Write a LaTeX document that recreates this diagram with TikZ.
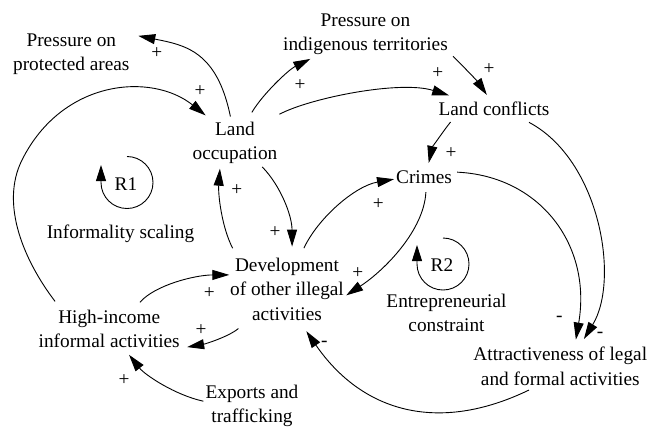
\documentclass[tikz,border=0pt]{standalone}
\usepackage{fontspec}
\setmainfont{Liberation Serif}
\usetikzlibrary{arrows.meta}
\begin{document}
\begin{tikzpicture}[x=1pt,y=-1pt,
  font=\fontsize{19.3}{24.3}\selectfont,
  var/.style={align=center, inner sep=5pt},
  lbl/.style={align=center, inner sep=0pt},
  sgn/.style={inner sep=0pt},
  link/.style={line width=0.9pt, -{Triangle[length=17pt,width=10pt]}},
  looparrow/.style={line width=0.9pt, -{Triangle[length=16pt,width=10pt]}}]
\useasboundingbox (0,0) rectangle (650,426);

% variables
\node[var] (ppa) at (71.3,54.5)  {Pressure on\\protected areas};
\node[var] (pit) at (365.5,34.5) {Pressure on\\indigenous territories};
\node[var] (lo)  at (235,142.6)  {Land\\occupation};
\node[var] (lc)  at (494,108.4)  {Land conflicts};
\node[var] (cr)  at (424,176.8)  {Crimes};
\node[var] (dev) at (287,289.2)  {Development\\of other illegal\\activities};
\node[var] (hi)  at (109.2,328.6) {High-income\\informal activities};
\node[var] (ex)  at (252,406)    {Exports and\\trafficking};
\node[var] (att) at (560.3,366.2) {Attractiveness of legal\\and formal activities};

% loop names
\node[lbl] (r1)  at (126,183.7)   {R1};
\node[lbl] (inf) at (120.5,233.5) {Informality scaling};
\node[lbl] (r2)  at (442,265)     {R2};
\node[lbl] (ent) at (446.5,312.9) {Entrepreneurial\\constraint};

% causal links
\draw[link, shorten >=3.7pt] (lo.100.9) .. controls (217,51) and (185,45) .. (ppa.17.8);
\draw[link, shorten <=4.75pt, shorten >=-3pt] (lo.61.6) .. controls (262,95) and (288,70) .. (pit.-156);
\draw[link, shorten <=4.75pt, shorten >=2.8pt] (lo.33.5) .. controls (310,98) and (400,80) .. (lc.164.2);
\draw[link, shorten >=1.8pt] (pit.-14.4) .. controls (465,68) and (478,82) .. (lc.117.3);
\draw[link, shorten <=2pt, shorten >=2.25pt] (lc.196.2) .. controls (444,130) and (432,148) .. (cr.70.9);
\draw[link, shorten <=4pt, shorten >=3.45pt] (lc.-21.8) .. controls (600,160) and (620,280) .. (att.48.9);
\draw[link, shorten >=2.45pt] (cr.8.2) .. controls (540,176) and (592,245) .. (att.58.2);
\draw[link, shorten <=3.65pt, shorten >=-3.3pt] (cr.-80.2) .. controls (424,230) and (385,270) .. (dev.-4.5);
\draw[link, shorten <=5.3pt, shorten >=-3.15pt] (dev.68.7) .. controls (318,218) and (355,186) .. (cr.185.5);
\draw[link, shorten <=-2.45pt, shorten >=6.3pt] (lo.-42.7) .. controls (280,185) and (292,215) .. (dev.82.1);
\draw[link, shorten <=5.3pt] (dev.145.4) .. controls (222,228) and (218,195) .. (lo.-120.1);
\draw[link, shorten <=2.85pt, shorten >=-4.3pt] (hi.40.5) .. controls (155,285) and (195,275) .. (dev.167);
\draw[link, shorten <=4.9pt, shorten >=2.3pt] (dev.-141.4) .. controls (228,337) and (205,344) .. (hi.-14.2);
\draw[link, shorten <=-3pt, shorten >=2.65pt] (ex.174.6) .. controls (175,395) and (145,375) .. (hi.-53.1);
\draw[link, shorten <=3.85pt, shorten >=1.75pt] (hi.155.5) .. controls (25,262) and (-0.5,205) .. (22,160)
   .. controls (62.5,79) and (151.7,72.3) .. (lo.137.3);
\draw[link, shorten <=-0.95pt, shorten >=6.9pt] (att.-143.7) .. controls (438,434) and (362,412) .. (dev.-67.3);

% polarities
\node[sgn] (s1)  at (156.7,53.3)  {+};
\node[sgn] (s2)  at (300,85)      {+};
\node[sgn] (s3)  at (437.7,72.7)  {+};
\node[sgn] (s4)  at (489,69.3)    {+};
\node[sgn] (s5)  at (451,153.3)   {+};
\node[sgn] (s6)  at (200,90.7)    {+};
\node[sgn] (s7)  at (236.7,190)   {+};
\node[sgn] (s8)  at (275,232.3)   {+};
\node[sgn] (s9)  at (378.3,204)   {+};
\node[sgn] (s10) at (357.7,272.7) {+};
\node[sgn] (s11) at (209.3,293)   {+};
\node[sgn] (s12) at (201,330.3)   {+};
\node[sgn] (s13) at (124,380.3)   {+};
\node[sgn] (s14) at (324.3,343.5) {-};
\node[sgn] (s15) at (559.3,319.1) {-};
\node[sgn] (s16) at (600,335.1)   {-};

% loop circles
\draw[looparrow] ([xshift=1pt,yshift=27.2pt]r1.center) arc[start angle=90, end angle=-180, radius=26pt] -- ++(0,-17.5);
\draw[looparrow] ([xshift=1pt,yshift=27pt]r2.center) arc[start angle=90, end angle=-180, radius=26pt] -- ++(0,-19);
\end{tikzpicture}
\end{document}
